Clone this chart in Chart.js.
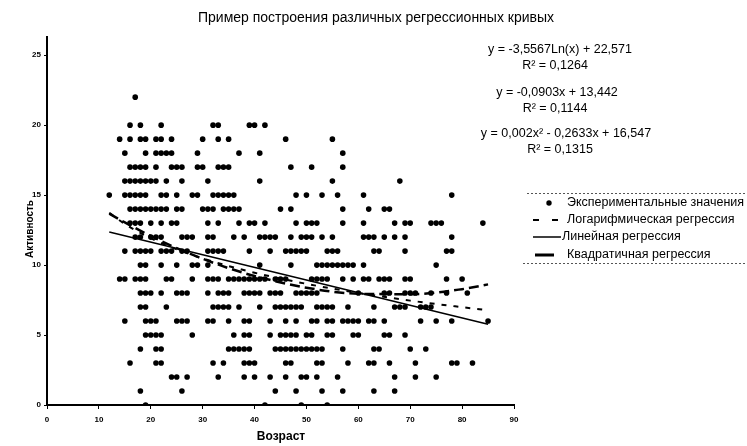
<!DOCTYPE html>
<html><head><meta charset="utf-8">
<script src="https://cdn.jsdelivr.net/npm/chart.js@4.4.0/dist/chart.umd.min.js"></script>
<style>html,body{margin:0;padding:0;background:#fff;}#wrap{position:relative;width:747px;height:446px;}</style>
</head><body><div id="wrap"><canvas id="c" width="747" height="446"></canvas></div>
<script>
const chartTitle = "Пример построения различных регрессионных кривых";
const xAxisTitle = "Возраст";
const yAxisTitle = "Активность";
const seriesNames = ["Экспериментальные значения", "Логарифмическая регрессия", "Линейная регрессия", "Квадратичная регрессия"];
const logEquation = ["y = -3,5567Ln(x) + 22,571", "R² = 0,1264"];
const linEquation = ["y = -0,0903x + 13,442", "R² = 0,1144"];
const quadEquation = ["y = 0,002x² - 0,2633x + 16,547", "R² = 0,1315"];

// experimental points: activity level -> ages observed at that level
const activityLevels = [22, 20, 19, 18, 17, 16, 15, 14, 13, 12, 11, 10, 9, 8, 7, 6, 5, 4, 3, 2, 1, 0];
const agesPerLevel = [
  [17],
  [16,18,22,32,33,39,40,42],
  [14,16,18,19,21,22,24,30,33,35,46,55],
  [15,19,21,22,23,24,29,37,41,57],
  [16,17,18,19,21,24,25,26,29,30,33,34,35,47,51,57],
  [15,16,17,18,19,20,21,23,26,31,41,55,68],
  [12,15,16,17,18,19,22,23,25,28,29,32,33,34,35,36,48,50,53,56,61,78],
  [16,17,18,19,20,21,22,23,25,26,30,31,32,34,35,36,37,45,47,57,62,65,66],
  [16,17,18,20,22,24,25,31,33,37,39,40,42,48,50,51,52,57,61,67,69,70,74,75,76,84],
  [17,18,20,21,22,26,27,28,31,32,36,38,41,42,43,44,47,49,50,51,53,55,61,62,63,65,67,69,78],
  [15,17,18,19,20,22,23,24,26,27,31,32,33,34,39,43,46,47,48,49,50,54,55,56,63,64,69,77,78],
  [18,19,22,25,28,29,31,41,47,52,53,54,55,56,57,58,59,61,75],
  [14,15,17,18,19,23,24,28,31,32,33,35,36,37,38,39,40,41,42,44,45,46,51,52,53,54,57,59,61,62,64,65,66,69,70,77,80],
  [18,19,20,22,25,26,27,31,33,34,35,38,39,40,41,43,44,45,48,49,50,51,52,60,65,66,69,70,71,74,77,81],
  [18,19,23,32,33,34,35,37,41,44,45,46,47,48,49,52,53,54,55,58,63,67,68,69,72,73,74],
  [15,19,20,21,25,26,27,31,32,35,38,39,43,46,48,51,52,54,55,57,58,59,60,62,63,65,72,75,78,85],
  [19,20,21,22,28,36,38,39,43,45,46,47,48,50,51,54,55,59,60,65,66,69],
  [18,21,22,35,36,37,38,39,44,45,46,47,48,49,50,51,52,53,57,63,64,70,73],
  [16,21,22,32,34,38,39,40,46,47,52,53,58,62,63,66,71,78,79,82],
  [24,25,27,33,38,40,43,46,49,50,52,56,67,71,75],
  [18,26,44,48,53,57,63,67],
  [19,42,49,54]
];

// trend curves
const trendAges = [12, 15, 20, 25, 30, 35, 40, 50, 60, 70, 80, 85];
const logTrend  = [13.73, 12.94, 11.92, 11.12, 10.47, 9.93, 9.45, 8.66, 8.01, 7.46, 6.99, 6.77];
const quadTrend = [13.68, 13.05, 12.08, 11.21, 10.45, 9.78, 9.22, 8.38, 7.95, 7.92, 8.28, 8.62];
const linearAges = [12, 85];
const linearTrend = [12.36, 5.77];

const xTickValues = [0, 10, 20, 30, 40, 50, 60, 70, 80, 90];
const yTickValues = [0, 5, 10, 15, 20, 25];

const points = [];
activityLevels.forEach((lvl, i) => agesPerLevel[i].forEach(a => points.push({x: a, y: lvl})));
const pair = (xs, ys) => xs.map((x, i) => ({x: x, y: ys[i]}));

const FONT = "'Liberation Sans', Arial, sans-serif";

const overlay = {
  id: 'overlay',
  afterDraw(chart) {
    const ctx = chart.ctx;
    ctx.save();
    ctx.fillStyle = '#000';
    ctx.textBaseline = 'middle';
    // title
    ctx.font = "14px " + FONT;
    ctx.textAlign = 'center';
    ctx.fillText(chartTitle, 376, 18);
    // axis titles
    ctx.font = "bold 12px " + FONT;
    ctx.fillText(xAxisTitle, 281, 437);
    ctx.font = "bold 10px " + FONT;
    ctx.save();
    ctx.translate(30, 229);
    ctx.rotate(-Math.PI / 2);
    ctx.fillText(yAxisTitle, 0, 0);
    ctx.restore();
    // equations
    ctx.font = "12.5px " + FONT;
    const eqs = [[logEquation, 50, 560, 555], [linEquation, 93, 557, 555], [quadEquation, 134, 566, 560]];
    eqs.forEach(([lines, y, cx1, cx2]) => {
      ctx.fillText(lines[0], cx1, y);
      ctx.fillText(lines[1], cx2, y + 16);
    });
    // legend
    ctx.strokeStyle = '#555';
    ctx.lineWidth = 1;
    ctx.setLineDash([2, 2]);
    ctx.beginPath();
    ctx.moveTo(527, 193.5); ctx.lineTo(747, 193.5);
    ctx.moveTo(523, 263.5); ctx.lineTo(747, 263.5);
    ctx.stroke();
    ctx.textAlign = 'left';
    ctx.font = "12.5px " + FONT;
    ctx.strokeStyle = '#000';
    // 1 points
    ctx.beginPath(); ctx.arc(549, 203, 2.7, 0, Math.PI * 2); ctx.fill();
    ctx.fillText(seriesNames[0], 567, 203);
    // 2 log dashed
    ctx.setLineDash([6, 13]); ctx.lineWidth = 2;
    ctx.beginPath(); ctx.moveTo(533, 220); ctx.lineTo(559, 220); ctx.stroke();
    ctx.fillText(seriesNames[1], 567, 220);
    // 3 linear
    ctx.setLineDash([]); ctx.lineWidth = 1.5;
    ctx.beginPath(); ctx.moveTo(533, 237); ctx.lineTo(561, 237); ctx.stroke();
    ctx.fillText(seriesNames[2], 562, 237);
    // 4 quadratic
    ctx.lineWidth = 3;
    ctx.beginPath(); ctx.moveTo(535, 255); ctx.lineTo(554, 255); ctx.stroke();
    ctx.fillText(seriesNames[3], 567, 255);
    ctx.restore();
  }
};

new Chart(document.getElementById('c'), {
  type: 'scatter',
  data: {
    datasets: [
      {label: seriesNames[0], data: points, pointRadius: 2.8, pointHoverRadius: 2.8,
       backgroundColor: '#000', borderWidth: 0, showLine: false, order: 5},
      {type: 'line', label: seriesNames[1], data: pair(trendAges, logTrend), borderColor: '#000',
       borderWidth: 2, borderDash: [5, 7], pointRadius: 0, fill: false, cubicInterpolationMode: 'monotone', order: 2},
      {type: 'line', label: seriesNames[2], data: pair(linearAges, linearTrend), borderColor: '#000',
       borderWidth: 1.5, pointRadius: 0, fill: false, order: 1},
      {type: 'line', label: seriesNames[3], data: pair(trendAges, quadTrend), borderColor: '#000',
       borderWidth: 2.5, borderDash: [10, 5], pointRadius: 0, fill: false, cubicInterpolationMode: 'monotone', order: 3}
    ]
  },
  options: {
    responsive: false, animation: false, devicePixelRatio: 1,
    layout: {padding: {left: 0, top: 37, right: 233, bottom: 0}},
    plugins: {legend: {display: false}, title: {display: false}, tooltip: {enabled: false}},
    scales: {
      x: {
        type: 'linear', min: 0, max: 90,
        afterFit(s) { s.height = 41; },
        afterBuildTicks(s) { s.ticks = xTickValues.map(v => ({value: v})); },
        grid: {display: true, drawOnChartArea: false, drawTicks: true, tickLength: 4, color: '#000', tickColor: '#000'},
        border: {display: true, color: '#000', width: 2},
        ticks: {color: '#000', font: {family: FONT, size: 8, weight: 'bold'}, padding: 6, maxRotation: 0}
      },
      y: {
        type: 'linear', min: 0, max: 26.3,
        afterFit(s) { s.width = 47; },
        afterBuildTicks(s) { s.ticks = yTickValues.map(v => ({value: v})); },
        grid: {display: true, drawOnChartArea: false, drawTicks: true, tickLength: 3, color: '#000', tickColor: '#000'},
        border: {display: true, color: '#000', width: 2},
        ticks: {color: '#000', font: {family: FONT, size: 8, weight: 'bold'}, padding: 3}
      }
    }
  },
  plugins: [overlay]
});
</script>
</body></html>
